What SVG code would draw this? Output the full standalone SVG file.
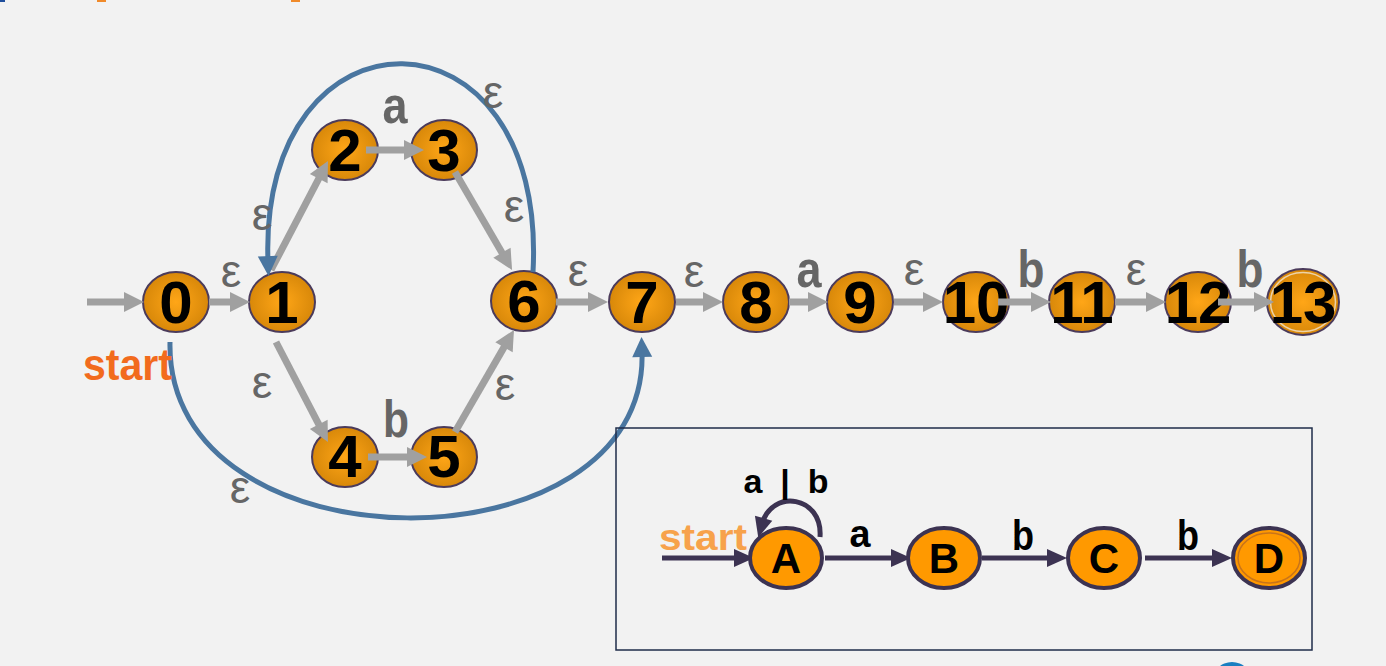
<svg xmlns="http://www.w3.org/2000/svg" width="1386" height="666" viewBox="0 0 1386 666">
<style>
.n{stroke:#4b3b5b;stroke-width:2;fill:url(#og)}
.d{font-family:"Liberation Sans",Arial,sans-serif;font-weight:bold;font-size:60px;fill:#000;text-anchor:middle}
.eps{font-family:"Liberation Sans",Arial,sans-serif;font-size:46px;fill:#666;text-anchor:middle}
.sym{font-family:"Liberation Sans",Arial,sans-serif;font-weight:bold;font-size:52px;fill:#666;text-anchor:middle}
.g{stroke:#a0a0a0;stroke-width:7;fill:none;marker-end:url(#ga)}
.bl{stroke:#4a76a0;stroke-width:5;fill:none;marker-end:url(#ba)}
.dn{stroke:#3c3352;stroke-width:4;fill:#ff9900}
.dl{font-family:"Liberation Sans",Arial,sans-serif;font-weight:bold;font-size:42px;fill:#000;text-anchor:middle}
.dt{font-family:"Liberation Sans",Arial,sans-serif;font-weight:bold;fill:#000;text-anchor:middle}
.da{stroke:#3c3352;stroke-width:5;fill:none;marker-end:url(#da)}
</style>
<defs>
<radialGradient id="og" cx="50%" cy="50%" r="55%">
<stop offset="0" stop-color="#ffa617"/>
<stop offset="1" stop-color="#d48508"/>
</radialGradient>
<marker id="ga" markerUnits="userSpaceOnUse" markerWidth="20" markerHeight="20" refX="6" refY="10" orient="auto" overflow="visible">
<path d="M0,0 L20,10 L0,20 z" fill="#a0a0a0"/>
</marker>
<marker id="ba" markerUnits="userSpaceOnUse" markerWidth="20" markerHeight="20" refX="6" refY="10" orient="auto" overflow="visible">
<path d="M0,0 L20,10 L0,20 z" fill="#4a76a0"/>
</marker>
<marker id="da" markerUnits="userSpaceOnUse" markerWidth="20" markerHeight="18" refX="6" refY="9" orient="auto" overflow="visible">
<path d="M0,0 L20,9 L0,18 z" fill="#3c3352"/>
</marker>
</defs>
<rect width="1386" height="666" fill="#f2f2f2"/>
<rect x="0" y="0" width="5" height="2" fill="#1f4e9c"/>
<rect x="97" y="0" width="9" height="2" fill="#f08a2a"/>
<rect x="291" y="0" width="9" height="2" fill="#f08a2a"/>
<circle cx="1232" cy="682" r="20" fill="#1a7fc1"/>

<g id="nodes">
<g id="n0"><ellipse class="n" cx="176" cy="302" rx="33" ry="30"/><text class="d" x="176" y="323">0</text></g>
<g id="n1"><ellipse class="n" cx="282" cy="302" rx="33" ry="30"/><text class="d" x="282" y="323">1</text></g>
<g id="n2"><ellipse class="n" cx="345" cy="150" rx="33" ry="30"/><text class="d" x="345" y="171">2</text></g>
<g id="n3"><ellipse class="n" cx="444" cy="150" rx="33" ry="30"/><text class="d" x="444" y="171">3</text></g>
<g id="n4"><ellipse class="n" cx="345" cy="457" rx="33" ry="30"/><text class="d" x="345" y="477">4</text></g>
<g id="n5"><ellipse class="n" cx="444" cy="457" rx="33" ry="30"/><text class="d" x="444" y="477">5</text></g>
<g id="n6"><ellipse class="n" cx="524" cy="301" rx="33" ry="30"/><text class="d" x="524" y="322">6</text></g>
<g id="n7"><ellipse class="n" cx="642" cy="302" rx="33" ry="30"/><text class="d" x="642" y="323">7</text></g>
<g id="n8"><ellipse class="n" cx="756" cy="302" rx="33" ry="30"/><text class="d" x="756" y="323">8</text></g>
<g id="n9"><ellipse class="n" cx="860" cy="302" rx="33" ry="30"/><text class="d" x="860" y="323">9</text></g>
<g id="n10"><ellipse class="n" cx="976" cy="302" rx="33" ry="30"/><text class="d" x="976" y="323">10</text></g>
<g id="n11"><ellipse class="n" cx="1082" cy="302" rx="33" ry="30"/><text class="d" x="1082" y="323">11</text></g>
<g id="n12"><ellipse class="n" cx="1198" cy="302" rx="33" ry="30"/><text class="d" x="1198" y="323">12</text></g>
<g id="n13"><ellipse class="n" cx="1303" cy="302" rx="36" ry="33"/><ellipse cx="1303" cy="302" rx="32.5" ry="29.5" fill="none" stroke="#ecd2a8" stroke-width="1.5"/><text class="d" x="1303" y="323">13</text></g>
</g>

<g id="connectors">
<line class="g" x1="87" y1="302" x2="130" y2="302"/>
<line class="g" x1="209" y1="302" x2="236" y2="302"/>
<line class="g" x1="271" y1="270" x2="321.5" y2="173.4"/>
<line class="g" x1="366" y1="150" x2="410" y2="150"/>
<line class="g" x1="455" y1="172" x2="505" y2="257.9"/>
<line class="g" x1="276" y1="342" x2="321.5" y2="429.6"/>
<line class="g" x1="368" y1="457" x2="413" y2="457"/>
<line class="g" x1="455" y1="432" x2="507" y2="342.1"/>
<line class="g" x1="556" y1="302" x2="594" y2="302"/>
<line class="g" x1="676" y1="302" x2="709" y2="302"/>
<line class="g" x1="789" y1="302" x2="814" y2="302"/>
<line class="g" x1="894" y1="302" x2="929" y2="302"/>
<line class="g" x1="998" y1="302" x2="1037" y2="302"/>
<line class="g" x1="1115" y1="302" x2="1152" y2="302"/>
<line class="g" x1="1218" y1="302" x2="1260" y2="302"/>
<path class="bl" d="M 533 272 C 548 -4, 258 -4, 268 262"/>
<path class="bl" d="M 170 342 C 165 575, 650 575, 642 351"/>
</g>

<g id="labels">
<text class="eps" x="231" y="287">ε</text>
<text class="eps" x="262" y="230">ε</text>
<text class="eps" x="262" y="398">ε</text>
<text class="eps" x="493" y="108">ε</text>
<text class="eps" x="514" y="222">ε</text>
<text class="eps" x="505" y="400">ε</text>
<text class="eps" x="240" y="503">ε</text>
<text class="eps" x="578" y="286">ε</text>
<text class="eps" x="694" y="287">ε</text>
<text class="eps" x="914" y="285">ε</text>
<text class="eps" x="1136" y="285">ε</text>
<text class="sym" x="395" y="123" textLength="25" lengthAdjust="spacingAndGlyphs">a</text>
<text class="sym" x="396" y="437" textLength="26" lengthAdjust="spacingAndGlyphs">b</text>
<text class="sym" x="809" y="287" textLength="25" lengthAdjust="spacingAndGlyphs">a</text>
<text class="sym" x="1031" y="287" textLength="27" lengthAdjust="spacingAndGlyphs">b</text>
<text class="sym" x="1250" y="287" textLength="27" lengthAdjust="spacingAndGlyphs">b</text>
<text x="83" y="380" font-family="Liberation Sans, Arial, sans-serif" font-weight="bold" font-size="44" fill="#f26b1d" textLength="89" lengthAdjust="spacingAndGlyphs">start</text>
</g>

<g id="dfa">
<rect x="616" y="428" width="696" height="222" fill="none" stroke="#1f2d4a" stroke-width="1.5"/>
<g id="dfa-connectors">
<line class="da" x1="662" y1="558" x2="740" y2="558"/>
<line class="da" x1="825" y1="558" x2="897" y2="558"/>
<line class="da" x1="982" y1="558" x2="1053" y2="558"/>
<line class="da" x1="1145" y1="558" x2="1218" y2="558"/>
<path class="da" d="M 820 537 C 823 496, 772 488, 762 524"/>
</g>
<g id="A"><ellipse class="dn" cx="786" cy="558" rx="36" ry="30"/><text class="dl" x="786" y="573">A</text></g>
<g id="B"><ellipse class="dn" cx="944" cy="558" rx="36" ry="30"/><text class="dl" x="944" y="573">B</text></g>
<g id="C"><ellipse class="dn" cx="1104" cy="558" rx="36" ry="30"/><text class="dl" x="1104" y="573">C</text></g>
<g id="D"><ellipse class="dn" cx="1269" cy="558" rx="36" ry="30"/><ellipse cx="1269" cy="558" rx="31" ry="25" fill="none" stroke="#c8741a" stroke-width="1.5"/><text class="dl" x="1269" y="573">D</text></g>
<text class="dt" x="786" y="493" font-size="34" textLength="85">a | b</text>
<text class="dt" x="860" y="547" font-size="38" textLength="21" lengthAdjust="spacingAndGlyphs">a</text>
<text class="dt" x="1023" y="550" font-size="42" textLength="22" lengthAdjust="spacingAndGlyphs">b</text>
<text class="dt" x="1188" y="550" font-size="42" textLength="22" lengthAdjust="spacingAndGlyphs">b</text>
<text x="659" y="550" font-family="Liberation Sans, Arial, sans-serif" font-weight="bold" font-size="36" fill="#f7a24b" textLength="88" lengthAdjust="spacingAndGlyphs">start</text>
</g>
</svg>
